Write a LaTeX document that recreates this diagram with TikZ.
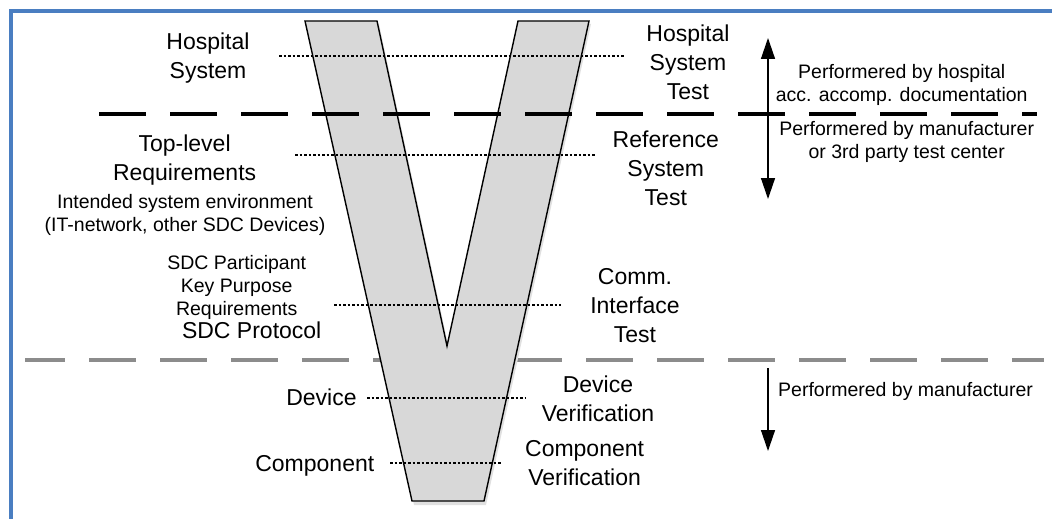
\documentclass[tikz,border=0pt]{standalone}
\usepackage{fontspec}
\setmainfont{Liberation Sans}
\usetikzlibrary{arrows.meta}
\definecolor{frameblue}{RGB}{74,126,193}
\definecolor{vfill}{RGB}{216,216,216}
\definecolor{greyline}{RGB}{140,140,140}
\begin{document}
\begin{tikzpicture}[x=1pt,y=-1pt,
  big/.style={inner sep=0pt, align=center, font=\fontsize{23}{29}\selectfont},
  small/.style={inner sep=0pt, align=center, font=\fontsize{19.5}{23}\selectfont},
  dotline/.style={line width=1.1pt, dash pattern=on 2.5pt off 2pt},
  bigdash/.style={line width=3.5pt, dash pattern=on 47pt off 24pt},
  greydash/.style={line width=3.5pt, draw=greyline, dash pattern=on 47pt off 24pt, dash phase=7pt},
  vshape/.style={draw=black, line width=1.4pt, fill=vfill, line join=miter},
  rangearrow/.style={line width=1.4pt},
  tip/.style={-{Triangle[length=21pt,width=14pt]}},
  tips/.style={{Triangle[length=21pt,width=14pt]}-{Triangle[length=21pt,width=14pt]}},
]
\useasboundingbox (0,0) rectangle (1052,519);
\fill[white] (0,0) rectangle (1052,519);
% frame
\draw[frameblue, line width=3.5pt] (11,530) -- (11,11) -- (1060,11);
% grey dashed separator (behind V)
\coordinate (gl) at (25,360);
\coordinate (gr) at (1044,360);
\draw[greydash] (gl) -- (gr);
% V shadow and V
\fill[black!12] (307,24) -- (379,24) -- (449,349) -- (520,24) -- (591,24) -- (486,505) -- (414,505) -- cycle;
\draw[vshape] (305,21) -- (377,21) -- (447,346) -- (518,21) -- (589,21) -- (484,501) -- (412,501) -- cycle;
% black dashed separator
\coordinate (bl) at (99,114);
\coordinate (br) at (1037,114);
\draw[bigdash] (bl) -- (br);
% dotted level lines
\coordinate (d1l) at (279,56);  \coordinate (d1r) at (624,56);
\coordinate (d2l) at (295,155); \coordinate (d2r) at (596,155);
\coordinate (d3l) at (334,305); \coordinate (d3r) at (561,305);
\coordinate (d4l) at (367,398); \coordinate (d4r) at (525,398);
\coordinate (d5l) at (390,463); \coordinate (d5r) at (501,463);
\draw[dotline] (d1l) -- (d1r);
\draw[dotline] (d2l) -- (d2r);
\draw[dotline] (d3l) -- (d3r);
\draw[dotline] (d4l) -- (d4r);
\draw[dotline] (d5l) -- (d5r);
% arrows
\coordinate (a1t) at (768,38);
\coordinate (a1b) at (768,199);
\coordinate (a2t) at (768,368);
\coordinate (a2b) at (768,451);
\draw[rangearrow, tips] (a1t) -- (a1b);
\draw[rangearrow, tip] (a2t) -- (a2b);
% left labels
\node[big] (hs) at (208,58.3) {Hospital\\System};
\node[big] (tl) at (184.6,159.9) {Top-level\\Requirements};
\node[small] (ise) at (185,214.5) {Intended system environment\\(IT-network, other SDC Devices)};
\node[small] (sdcp) at (236.7,287.6) {SDC Participant\\Key Purpose\\Requirements};
\node[big] (sdcprot) at (251.7,330) {SDC Protocol};
\node[big] (dev) at (321.5,397) {Device};
\node[big] (comp) at (314.8,465.4) {Component};
% right labels
\node[big] (hst) at (688,62) {Hospital\\System\\Test};
\node[big] (rst) at (665.8,168) {Reference\\System\\Test};
\node[big] (cit) at (635,306) {Comm.\\Interface\\Test};
\node[big] (dv) at (598,398.4) {Device\\Verification};
\node[big] (cv) at (584.6,463.4) {Component\\Verification};
% responsibility labels
\node[small] (ph) at (901.7,84.5) {Performered by hospital\\acc. accomp. documentation};
\node[small] (pm) at (906.7,142) {Performered by manufacturer\\or 3rd party test center};
\node[small, anchor=west] (pmo) at (778,391) {Performered by manufacturer};
\end{tikzpicture}
\end{document}
